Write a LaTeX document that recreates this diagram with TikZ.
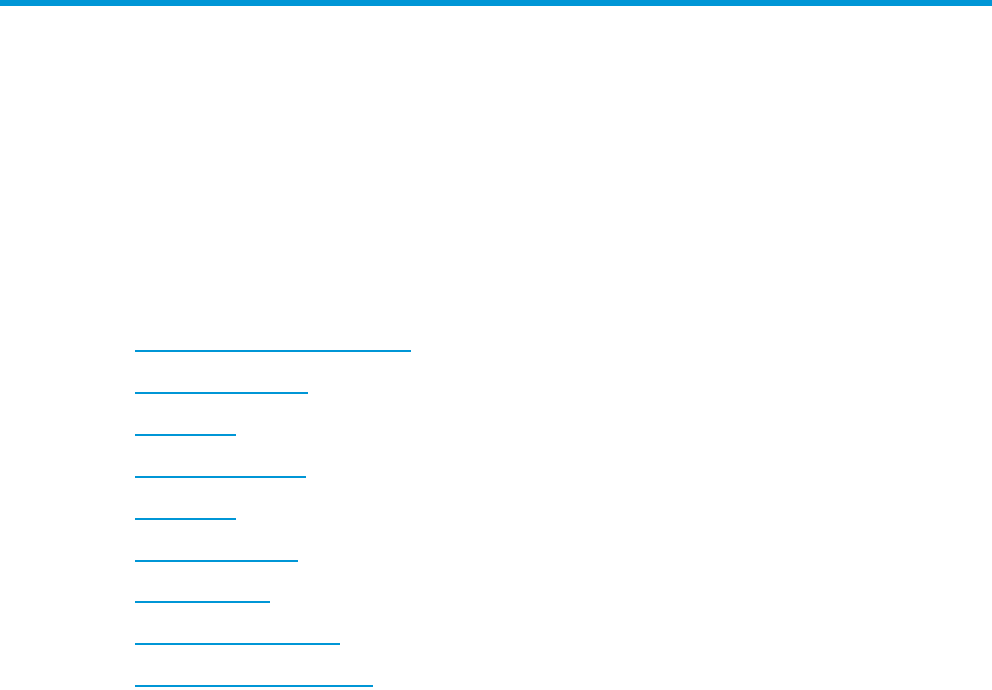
\documentclass[tikz,border=0pt]{standalone}
\begin{document}
\begin{tikzpicture}[x=1pt,y=-1pt,link/.style={draw=cyan!60!blue!70!black!0,line width=1.5pt},lk/.style={draw={rgb,255:red,0;green,150;blue,214},line width=1.5pt}]
\definecolor{hpblue}{RGB}{0,150,214}
\useasboundingbox (0,0) rectangle (992,689);
\fill[hpblue] (0,0) rectangle (992,6);
\foreach \y/\e [count=\i] in {351/411,393/308,435/236,477/306,519/236,561/298,602/270,644/340,686/373}{
  \coordinate (s\i) at (135,\y); \coordinate (e\i) at (\e,\y);
  \draw[lk] (s\i) -- (e\i);
}
\end{tikzpicture}
\end{document}
